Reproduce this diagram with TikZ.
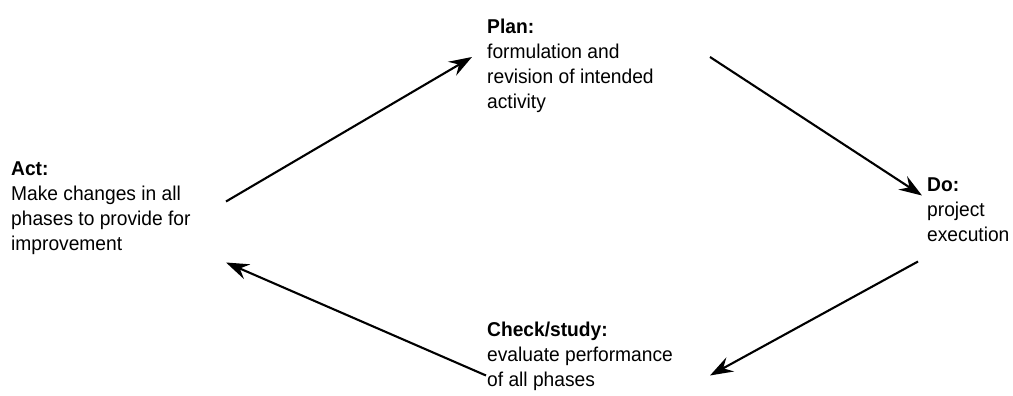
\documentclass[tikz,border=0pt]{standalone}
\usepackage{fontspec}
\setmainfont[FakeStretch=0.96]{Liberation Sans}
\usetikzlibrary{arrows.meta}
\begin{document}
\begin{tikzpicture}[x=1pt,y=-1pt,
  phase/.style={anchor=north west,inner sep=0pt,align=left,
    font=\fontsize{20}{25}\selectfont},
  cyclearrow/.style={line width=2.1pt,
    -{Stealth[length=23pt,width=16pt,inset=8pt]}}]
  \useasboundingbox (0,0) rectangle (1013,396);

  % the four phases of the cycle
  \node[phase] (plan)  at (487,18.5)  {\textbf{Plan:}\\formulation and\\revision of intended\\activity};
  \node[phase] (act)   at (11,161.5)  {\textbf{Act:}\\Make changes in all\\phases to provide for\\improvement};
  \node[phase] (do)    at (927,177.5) {\textbf{Do:}\\project\\execution};
  \node[phase] (check) at (487,321.5) {\textbf{Check/study:}\\evaluate performance\\of all phases};

  % arrow ends
  \coordinate (actout)   at (226,201.5);
  \coordinate (planin)   at (472,57);
  \coordinate (planout)  at (710,57);
  \coordinate (doin)     at (922,195.5);
  \coordinate (doout)    at (918,261.5);
  \coordinate (checkin)  at (710,375.5);
  \coordinate (checkout) at (486,375.5);
  \coordinate (actin)    at (226,262.5);

  \draw[cyclearrow] (actout) -- (planin);
  \draw[cyclearrow] (planout) -- (doin);
  \draw[cyclearrow] (doout) -- (checkin);
  \draw[cyclearrow] (checkout) -- (actin);
\end{tikzpicture}
\end{document}
